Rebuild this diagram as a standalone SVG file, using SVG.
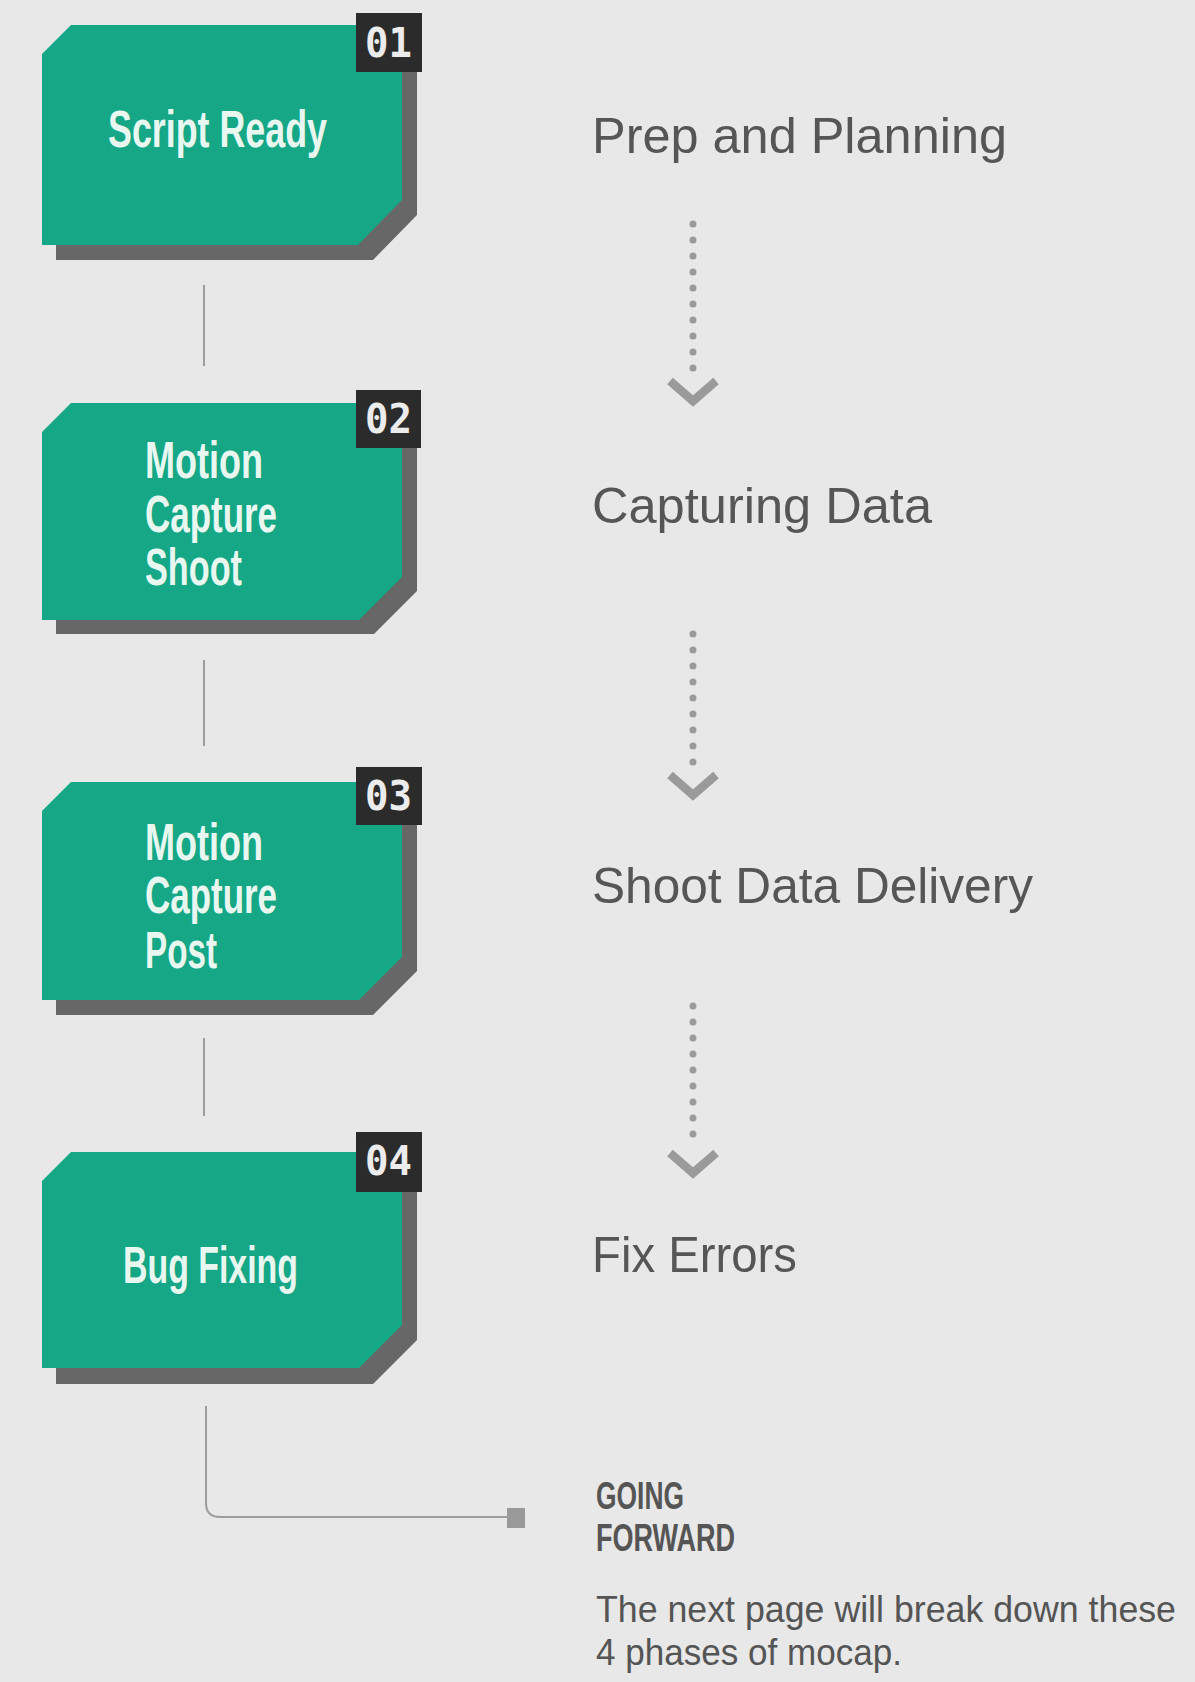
<svg xmlns="http://www.w3.org/2000/svg" width="1195" height="1682" viewBox="0 0 1195 1682">
<defs>
<style>
.bg{fill:#e7e8e7}
.green{fill:#15a786}
.shadow{fill:#676767}
.badge{fill:#2b2b2b}
.num{font-family:"DejaVu Sans Mono","Liberation Mono",monospace;font-weight:bold;font-size:40px;fill:#ececec}
.ntext{font-family:"Liberation Sans",Arial,sans-serif;font-weight:bold;font-size:52px;fill:#e9f7f1}
.phase{font-family:"Liberation Sans",Arial,sans-serif;font-size:50px;fill:#565656}
.head{font-family:"Liberation Sans",Arial,sans-serif;font-weight:bold;font-size:38px;fill:#555555}
.body{font-family:"Liberation Sans",Arial,sans-serif;font-size:36px;fill:#555555}
.vline{stroke:#9c9c9c;stroke-width:2;fill:none}
.dots{stroke:#9a9a9a;stroke-width:7;stroke-linecap:round;stroke-dasharray:0 16;fill:none}
.chev{stroke:#9a9a9a;stroke-width:8.5;fill:none;stroke-linejoin:miter}
</style>
</defs>
<rect class="bg" x="0" y="0" width="1195" height="1682"/>

<g id="connectors">
<line class="vline" x1="204" y1="285" x2="204" y2="366"/>
<line class="vline" x1="204" y1="660" x2="204" y2="746"/>
<line class="vline" x1="204" y1="1038" x2="204" y2="1116"/>
<path class="vline" d="M206,1406 V1503 Q206,1517 220,1517 H510"/>
<rect x="507" y="1508" width="18" height="20" fill="#999999"/>
<line class="dots" x1="693" y1="224" x2="693" y2="384"/>
<polyline class="chev" points="670,381 693,401 716,381"/>
<line class="dots" x1="693" y1="634" x2="693" y2="778"/>
<polyline class="chev" points="670,775 693,795 716,775"/>
<line class="dots" x1="693" y1="1006" x2="693" y2="1150"/>
<polyline class="chev" points="670,1153 693,1173 716,1153"/>
</g>

<g id="node1">
<polygon class="shadow" points="86,40 417,40 417,215 373,260 56,260 56,69"/>
<polygon class="green" points="71,25 402,25 402,200 358,245 42,245 42,54"/>
<rect class="badge" x="356" y="13" width="66" height="59"/>
<text class="num" x="365" y="57" textLength="47" lengthAdjust="spacingAndGlyphs">01</text>
<text class="ntext" x="108" y="147" textLength="219" lengthAdjust="spacingAndGlyphs">Script Ready</text>
</g>

<g id="node2">
<polygon class="shadow" points="86,417 417,417 417,591 374,634 56,634 56,446"/>
<polygon class="green" points="71,403 402,403 402,577 359,620 42,620 42,432"/>
<rect class="badge" x="356" y="390" width="65" height="58"/>
<text class="num" x="365" y="433" textLength="47" lengthAdjust="spacingAndGlyphs">02</text>
<text class="ntext" x="145" y="478" textLength="118" lengthAdjust="spacingAndGlyphs">Motion</text>
<text class="ntext" x="145" y="532" textLength="132" lengthAdjust="spacingAndGlyphs">Capture</text>
<text class="ntext" x="145" y="585" textLength="97" lengthAdjust="spacingAndGlyphs">Shoot</text>
</g>

<g id="node3">
<polygon class="shadow" points="86,796 417,796 417,971 373,1015 56,1015 56,825"/>
<polygon class="green" points="71,782 402,782 402,957 359,1000 42,1000 42,811"/>
<rect class="badge" x="356" y="767" width="66" height="58"/>
<text class="num" x="365" y="810" textLength="47" lengthAdjust="spacingAndGlyphs">03</text>
<text class="ntext" x="145" y="860" textLength="118" lengthAdjust="spacingAndGlyphs">Motion</text>
<text class="ntext" x="145" y="913" textLength="132" lengthAdjust="spacingAndGlyphs">Capture</text>
<text class="ntext" x="145" y="968" textLength="72" lengthAdjust="spacingAndGlyphs">Post</text>
</g>

<g id="node4">
<polygon class="shadow" points="86,1167 417,1167 417,1340 373,1384 56,1384 56,1196"/>
<polygon class="green" points="71,1152 402,1152 402,1325 359,1368 42,1368 42,1181"/>
<rect class="badge" x="356" y="1132" width="66" height="60"/>
<text class="num" x="365" y="1175" textLength="47" lengthAdjust="spacingAndGlyphs">04</text>
<text class="ntext" x="123" y="1283" textLength="175" lengthAdjust="spacingAndGlyphs">Bug Fixing</text>
</g>

<g id="phase1"><text class="phase" x="592" y="153" textLength="415" lengthAdjust="spacingAndGlyphs">Prep and Planning</text></g>
<g id="phase2"><text class="phase" x="592" y="523" textLength="340" lengthAdjust="spacingAndGlyphs">Capturing Data</text></g>
<g id="phase3"><text class="phase" x="592" y="903" textLength="441" lengthAdjust="spacingAndGlyphs">Shoot Data Delivery</text></g>
<g id="phase4"><text class="phase" x="592" y="1272" textLength="205" lengthAdjust="spacingAndGlyphs">Fix Errors</text></g>

<g id="going-forward">
<text class="head" x="596" y="1509" textLength="88" lengthAdjust="spacingAndGlyphs">GOING</text>
<text class="head" x="596" y="1551" textLength="139" lengthAdjust="spacingAndGlyphs">FORWARD</text>
<text class="body" x="596" y="1622" textLength="580" lengthAdjust="spacingAndGlyphs">The next page will break down these</text>
<text class="body" x="596" y="1665" textLength="306" lengthAdjust="spacingAndGlyphs">4 phases of mocap.</text>
</g>
</svg>
